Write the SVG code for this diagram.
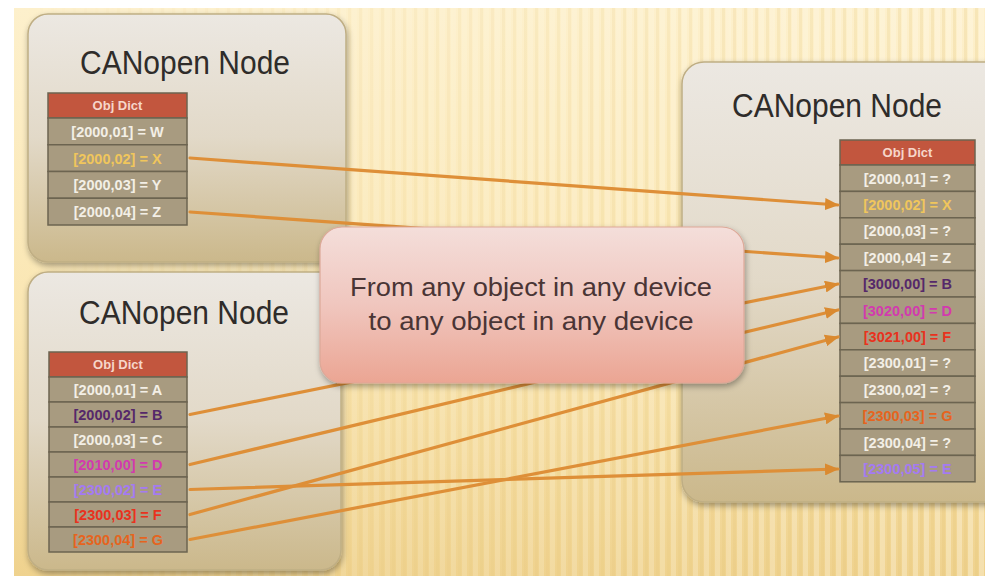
<svg xmlns="http://www.w3.org/2000/svg" width="985" height="576" viewBox="0 0 985 576">
  <defs>
    <linearGradient id="bgGrad" x1="0" y1="0" x2="0" y2="1">
      <stop offset="0" stop-color="#FDF0CC"/>
      <stop offset="0.55" stop-color="#FAE6B2"/>
      <stop offset="1" stop-color="#EFD28E"/>
    </linearGradient>
    <linearGradient id="stripeFade" x1="0" y1="0" x2="1" y2="0">
      <stop offset="0" stop-color="#fff" stop-opacity="0"/>
      <stop offset="0.3" stop-color="#fff" stop-opacity="0.3"/>
      <stop offset="1" stop-color="#fff" stop-opacity="0.9"/>
    </linearGradient>
    <mask id="stripeMask">
      <rect x="0" y="0" width="985" height="576" fill="url(#stripeFade)"/>
    </mask>
    <pattern id="blinds" x="0" y="0" width="11" height="20" patternUnits="userSpaceOnUse">
      <rect x="0" y="0" width="5" height="20" fill="#FFFBEA" opacity="0.4"/>
      <rect x="7" y="0" width="3" height="20" fill="#E2C372" opacity="0.25"/>
    </pattern>
    <linearGradient id="cardGrad" x1="0" y1="0" x2="0" y2="1">
      <stop offset="0" stop-color="#ECE8E2"/>
      <stop offset="0.5" stop-color="#E2D9C8"/>
      <stop offset="1" stop-color="#CBB88B"/>
    </linearGradient>
    <linearGradient id="pinkGrad" x1="0" y1="0" x2="0" y2="1">
      <stop offset="0" stop-color="#F4DEDA"/>
      <stop offset="0.5" stop-color="#F0C6BE"/>
      <stop offset="1" stop-color="#EBA593"/>
    </linearGradient>
    <filter id="shadow" x="-10%" y="-10%" width="120%" height="120%">
      <feGaussianBlur in="SourceAlpha" stdDeviation="3"/>
      <feOffset dx="1" dy="3" result="b"/>
      <feComponentTransfer><feFuncA type="linear" slope="0.35"/></feComponentTransfer>
      <feMerge><feMergeNode/><feMergeNode in="SourceGraphic"/></feMerge>
    </filter>
    <marker id="arrow" markerUnits="userSpaceOnUse" markerWidth="14" markerHeight="12" refX="13" refY="6" orient="auto">
      <path d="M0,0 L14,6 L0,12 Z" fill="#DA8A30"/>
    </marker>
  </defs>

  <style>
    .card { fill: url(#cardGrad); stroke: #BFAE84; stroke-width: 1.5; }
    .title { font-family: "Liberation Sans", Arial, sans-serif; font-size: 33px; fill: #2F2C2A; text-anchor: middle; }
    .hdr { fill: #C2563E; stroke: #6C6450; stroke-width: 1.5; }
    .row { fill: #A89B80; stroke: #6C6450; stroke-width: 1.5; }
    .hdrtxt { font-family: "Liberation Sans", Arial, sans-serif; font-size: 13px; font-weight: bold; fill: #F6D6CA; text-anchor: middle; }
    .cell { font-family: "Liberation Sans", Arial, sans-serif; font-size: 14.5px; font-weight: bold; text-anchor: middle; fill: #F3EFE6; }
    .gold { fill: #F0C65C; }
    .purple { fill: #55286A; }
    .magenta { fill: #D23AAE; }
    .lavender { fill: #A47AF2; }
    .red { fill: #E8321E; }
    .orange { fill: #E6641E; }
    .link { fill: none; stroke: #DE8F38; stroke-width: 3.2; stroke-linecap: round; marker-end: url(#arrow); }
    .callout { fill: url(#pinkGrad); stroke: #DDA898; stroke-width: 1.2; }
    .callout-text { font-family: "Liberation Sans", Arial, sans-serif; font-size: 25px; fill: #4A3535; text-anchor: middle; }
  </style>

  <!-- page background with vertical blinds texture -->
  <rect x="0" y="0" width="985" height="576" fill="#FFFFFF"/>
  <rect x="14" y="8" width="971" height="568" fill="url(#bgGrad)"/>
  <rect x="14" y="8" width="971" height="568" fill="url(#blinds)" mask="url(#stripeMask)"/>

  <!-- upper left node -->
  <g id="node-upper-left">
    <rect class="card" x="28" y="14" width="318" height="248" rx="20" filter="url(#shadow)"/>
    <text class="title" x="185" y="74" textLength="210" lengthAdjust="spacingAndGlyphs">CANopen Node</text>
    <rect class="hdr" x="48" y="93" width="139" height="25"/>
    <text class="hdrtxt" x="117.5" y="110">Obj Dict</text>
    <rect class="row" x="48" y="118" width="139" height="26.75"/>
    <rect class="row" x="48" y="144.75" width="139" height="26.75"/>
    <rect class="row" x="48" y="171.5" width="139" height="26.75"/>
    <rect class="row" x="48" y="198.25" width="139" height="26.75"/>
    <text class="cell" x="117.5" y="136.8">[2000,01] = W</text>
    <text class="cell gold" x="117.5" y="163.6">[2000,02] = X</text>
    <text class="cell" x="117.5" y="190.3">[2000,03] = Y</text>
    <text class="cell" x="117.5" y="217.1">[2000,04] = Z</text>
  </g>

  <!-- lower left node -->
  <g id="node-lower-left">
    <rect class="card" x="28" y="272" width="313" height="298" rx="20" filter="url(#shadow)"/>
    <text class="title" x="184" y="324" textLength="210" lengthAdjust="spacingAndGlyphs">CANopen Node</text>
    <rect class="hdr" x="49" y="352" width="138" height="25"/>
    <text class="hdrtxt" x="118" y="369">Obj Dict</text>
    <rect class="row" x="49" y="377" width="138" height="25"/>
    <rect class="row" x="49" y="402" width="138" height="25"/>
    <rect class="row" x="49" y="427" width="138" height="25"/>
    <rect class="row" x="49" y="452" width="138" height="25"/>
    <rect class="row" x="49" y="477" width="138" height="25"/>
    <rect class="row" x="49" y="502" width="138" height="25"/>
    <rect class="row" x="49" y="527" width="138" height="25"/>
    <text class="cell" x="118" y="395">[2000,01] = A</text>
    <text class="cell purple" x="118" y="420">[2000,02] = B</text>
    <text class="cell" x="118" y="445">[2000,03] = C</text>
    <text class="cell magenta" x="118" y="470">[2010,00] = D</text>
    <text class="cell lavender" x="118" y="495">[2300,02] = E</text>
    <text class="cell red" x="118" y="520">[2300,03] = F</text>
    <text class="cell orange" x="118" y="545">[2300,04] = G</text>
  </g>

  <!-- right node -->
  <g id="node-right">
    <rect class="card" x="682" y="62" width="330" height="440" rx="22" filter="url(#shadow)"/>
    <text class="title" x="837" y="117" textLength="210" lengthAdjust="spacingAndGlyphs">CANopen Node</text>
    <rect class="hdr" x="840" y="140" width="135" height="25"/>
    <text class="hdrtxt" x="907.5" y="157">Obj Dict</text>
    <rect class="row" x="840" y="165" width="135" height="26.4"/>
    <rect class="row" x="840" y="191.4" width="135" height="26.4"/>
    <rect class="row" x="840" y="217.8" width="135" height="26.4"/>
    <rect class="row" x="840" y="244.2" width="135" height="26.4"/>
    <rect class="row" x="840" y="270.6" width="135" height="26.4"/>
    <rect class="row" x="840" y="297" width="135" height="26.4"/>
    <rect class="row" x="840" y="323.4" width="135" height="26.4"/>
    <rect class="row" x="840" y="349.8" width="135" height="26.4"/>
    <rect class="row" x="840" y="376.2" width="135" height="26.4"/>
    <rect class="row" x="840" y="402.6" width="135" height="26.4"/>
    <rect class="row" x="840" y="429" width="135" height="26.4"/>
    <rect class="row" x="840" y="455.4" width="135" height="26.4"/>
    <text class="cell" x="907.5" y="183.6">[2000,01] = ?</text>
    <text class="cell gold" x="907.5" y="210">[2000,02] = X</text>
    <text class="cell" x="907.5" y="236.4">[2000,03] = ?</text>
    <text class="cell" x="907.5" y="262.8">[2000,04] = Z</text>
    <text class="cell purple" x="907.5" y="289.2">[3000,00] = B</text>
    <text class="cell magenta" x="907.5" y="315.6">[3020,00] = D</text>
    <text class="cell red" x="907.5" y="342">[3021,00] = F</text>
    <text class="cell" x="907.5" y="368.4">[2300,01] = ?</text>
    <text class="cell" x="907.5" y="394.8">[2300,02] = ?</text>
    <text class="cell orange" x="907.5" y="421.2">[2300,03] = G</text>
    <text class="cell" x="907.5" y="447.6">[2300,04] = ?</text>
    <text class="cell lavender" x="907.5" y="474">[2300,05] = E</text>
  </g>

  <!-- mappings between object dictionary entries -->
  <g id="connectors">
    <path class="link" d="M190,158 L838,205"/>
    <path class="link" d="M190,212 L838,258"/>
    <path class="link" d="M190,414.5 L838,284"/>
    <path class="link" d="M190,464.5 L838,310"/>
    <path class="link" d="M190,489.5 L838,469"/>
    <path class="link" d="M190,514.5 L838,337"/>
    <path class="link" d="M190,539.5 L838,416"/>
  </g>

  <!-- central callout -->
  <g id="callout">
    <rect class="callout" x="320" y="227" width="424" height="156" rx="22" filter="url(#shadow)"/>
    <text class="callout-text" x="531" y="296" textLength="362" lengthAdjust="spacingAndGlyphs">From any object in any device</text>
    <text class="callout-text" x="531" y="330" textLength="325" lengthAdjust="spacingAndGlyphs">to any object in any device</text>
  </g>
</svg>
